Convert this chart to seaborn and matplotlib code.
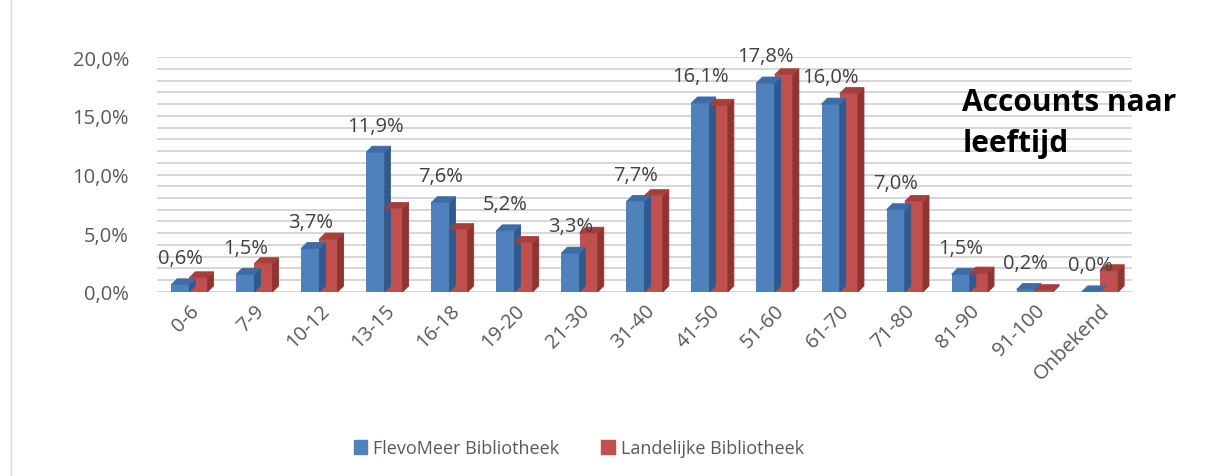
import numpy as np
import pandas as pd
import matplotlib
matplotlib.use("Agg")
import matplotlib.pyplot as plt
from matplotlib.patches import Polygon
from matplotlib.lines import Line2D
from matplotlib.ticker import MultipleLocator, FuncFormatter
import seaborn as sns

categories = ["0-6", "7-9", "10-12", "13-15", "16-18", "19-20", "21-30", "31-40",
              "41-50", "51-60", "61-70", "71-80", "81-90", "91-100", "Onbekend"]
flevomeer = [0.6, 1.5, 3.7, 11.9, 7.6, 5.2, 3.3, 7.7, 16.1, 17.8, 16.0, 7.0, 1.5, 0.2, 0.0]
landelijk = [1.2, 2.4, 4.5, 7.1, 5.3, 4.2, 5.0, 8.2, 15.9, 18.5, 16.9, 7.7, 1.6, 0.1, 1.8]
series_names = ["FlevoMeer Bibliotheek", "Landelijke Bibliotheek"]

colors = {"FlevoMeer Bibliotheek": "#4F81BD", "Landelijke Bibliotheek": "#C0504D"}
side_colors = {"FlevoMeer Bibliotheek": "#2F5A8E", "Landelijke Bibliotheek": "#8E3431"}
top_colors = {"FlevoMeer Bibliotheek": "#3D6CA6", "Landelijke Bibliotheek": "#A83E3B"}

df = pd.DataFrame({
    "categorie": categories * 2,
    "waarde": flevomeer + landelijk,
    "reeks": [series_names[0]] * len(categories) + [series_names[1]] * len(categories),
})

sns.set_style("white")
plt.rcParams["font.family"] = ["Open Sans", "DejaVu Sans"]

fig = plt.figure(figsize=(12.06, 4.77), dpi=100)
ax = fig.add_axes([0.13, 0.386, 0.809, 0.492])

sns.barplot(data=df, x="categorie", y="waarde", hue="reeks", palette=colors,
            width=0.56, gap=0, saturation=1, ax=ax, legend=False,
            linewidth=0, edgecolor="none")

ax.set_xlim(-0.5, len(categories) - 0.5)
ax.set_ylim(0, 20)
ax.yaxis.set_major_locator(MultipleLocator(5))
ax.yaxis.set_minor_locator(MultipleLocator(1))
ax.yaxis.set_major_formatter(FuncFormatter(lambda v, p: f"{v:.1f}%".replace(".", ",")))
ax.grid(which="both", axis="y", color="#d6d6d6", linewidth=1.4)
ax.set_axisbelow(True)
for s in ax.spines.values():
    s.set_visible(False)
ax.set_xlabel("")
ax.set_ylabel("")
ax.tick_params(axis="y", which="both", length=0, pad=20, labelsize=14.5, labelcolor="#595959")
ax.tick_params(axis="x", length=0, labelsize=14.5, labelcolor="#595959", pad=6)
plt.setp(ax.get_xticklabels(), rotation=45, ha="right", rotation_mode="anchor")

# 3D look: side and top faces derived from each bar patch
fig.canvas.draw()
inv = ax.transData.inverted()
p0 = inv.transform((0, 0))
p1 = inv.transform((6, 6))
dx, dy = p1[0] - p0[0], p1[1] - p0[1]
names_by_patch = [series_names[0]] * len(categories) + [series_names[1]] * len(categories)
for patch, name in zip(ax.patches, names_by_patch):
    x, y = patch.get_x(), patch.get_y()
    w, h = patch.get_width(), patch.get_height()
    side = Polygon([(x + w, y), (x + w + dx, y + dy), (x + w + dx, y + h + dy), (x + w, y + h)],
                   closed=True, facecolor=side_colors[name], edgecolor=side_colors[name],
                   linewidth=0.6, zorder=patch.get_zorder())
    top = Polygon([(x, y + h), (x + dx, y + h + dy), (x + w + dx, y + h + dy), (x + w, y + h)],
                  closed=True, facecolor=top_colors[name], edgecolor=top_colors[name],
                  linewidth=0.6, zorder=patch.get_zorder())
    ax.add_patch(side)
    ax.add_patch(top)

# data labels for FlevoMeer series
for patch, v in zip(ax.patches[:len(categories)], flevomeer):
    ax.annotate(f"{v:.1f}%".replace(".", ","), (patch.get_x() + patch.get_width() * 0.5, v),
                xytext=(0, 12), textcoords="offset points", ha="center", va="bottom",
                fontsize=14.5, color="#404040")

fig.text(0.798, 0.815, "Accounts naar\nleeftijd", fontsize=21.5, fontweight="bold",
         color="black", ha="left", va="top", linespacing=1.45)

handles = [plt.Rectangle((0, 0), 1, 1, color=colors[n]) for n in series_names]
fig.legend(handles, series_names, loc="center", bbox_to_anchor=(0.48, 0.058), ncol=2,
           frameon=False, handlelength=0.75, handleheight=0.75, handletextpad=0.35,
           columnspacing=2.3, fontsize=13, labelcolor="#595959")

fig.add_artist(Line2D([0.009, 0.009], [0, 1], transform=fig.transFigure, color="#d9d9d9", lw=1))

fig.savefig("out.png", dpi=100)
